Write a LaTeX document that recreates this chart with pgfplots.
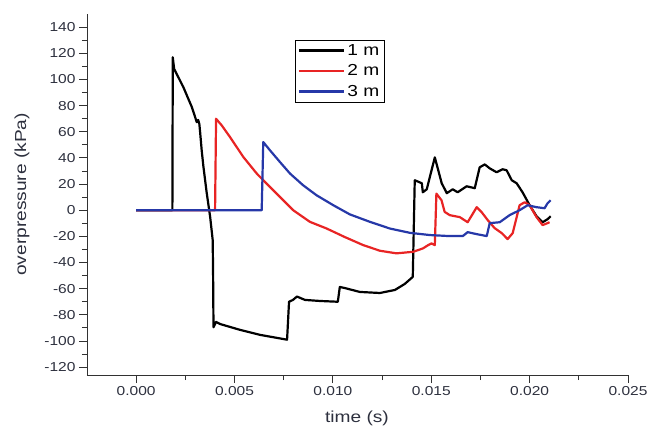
\documentclass[border=0pt]{standalone}
\usepackage{pgfplots}
\pgfplotsset{compat=1.18}
\usepackage{fontspec}
\setmainfont{Liberation Sans}[FakeStretch=1.2]

\definecolor{txt}{RGB}{45,48,62}
\definecolor{axisgray}{RGB}{50,50,50}
\definecolor{cRed}{RGB}{232,36,36}
\definecolor{cBlue}{RGB}{38,56,168}

\begin{document}
\begin{tikzpicture}
\path[use as bounding box] (-87bp,-55bp) rectangle (562bp,375bp);
\begin{axis}[
  scale only axis,
  width=541bp, height=361bp,
  xmin=-0.0025, xmax=0.025,
  ymin=-126, ymax=150,
  axis x line=bottom, axis y line=left,
  axis line style={-, draw=axisgray, line width=0.9pt},
  tick align=outside,
  major tick length=8bp, minor tick length=5bp,
  every tick/.style={axisgray, line width=0.9pt},
  xtick={0,0.005,0.01,0.015,0.02,0.025},
  minor xtick={0.0025,0.0075,0.0125,0.0175,0.0225},
  ytick={-120,-100,-80,-60,-40,-20,0,20,40,60,80,100,120,140},
  minor y tick num=1,
  scaled x ticks=false,
  xticklabel style={/pgf/number format/.cd, fixed, fixed zerofill, precision=3},
  /pgf/number format/assume math mode=true,
  tick label style={font=\fontsize{13}{15}\selectfont, text=txt},
  xlabel={time (s)}, ylabel={overpressure (kPa)},
  label style={font=\fontsize{16}{18}\selectfont, text=txt},
  xlabel style={at={(axis description cs:0.499,-0.119)}, anchor=center},
  ylabel style={at={(axis description cs:-0.120,0.5)}, anchor=center},
  legend style={at={(0.384,0.928)}, anchor=north west, draw=black,
    font=\fontsize{16}{16}\selectfont,
    inner xsep=3pt, inner ysep=2pt, row sep=4pt, cells={anchor=west},
    /tikz/every odd column/.style={inner xsep=1pt}},
  legend image code/.code={\draw[#1] (0bp,0bp) -- (45bp,0bp);},
  legend image post style={line width=2.4bp},
  every axis plot/.append style={line width=2.2bp, line join=round},
]
% 1 m
\addplot[black] coordinates {
(0,0) (0.00184,0) (0.00186,116.9) (0.00193,108) (0.0024,94) (0.00283,78.8)
(0.00308,67.3) (0.00315,69) (0.00321,66) (0.00325,59.7) (0.00333,45.7)
(0.00342,33) (0.00359,12.7) (0.00376,-5.1) (0.00389,-22.9) (0.00391,-50)
(0.00393,-89.5) (0.00406,-85.4) (0.00426,-87)
(0.00528,-91.5) (0.00629,-95.3) (0.00767,-99) (0.00777,-70) (0.00797,-68.6)
(0.00817,-66) (0.00858,-68.6) (0.00934,-69.4) (0.01025,-70) (0.01035,-58.7)
(0.0106,-59.5) (0.01137,-62.5) (0.01239,-63.3) (0.01315,-61) (0.01365,-56.4)
(0.01406,-51) (0.01416,22.9) (0.01452,20.6) (0.01457,13.7) (0.01477,16)
(0.01518,40.4) (0.01553,20.6) (0.01579,13) (0.01609,16) (0.01634,13.7)
(0.0168,18.3) (0.01721,16.8) (0.01746,32.8) (0.01772,35) (0.01797,32)
(0.01832,29) (0.01863,31.3) (0.01883,30.5) (0.01909,22.9) (0.01934,20.6)
(0.01964,13.7) (0.02,3.8) (0.02035,-4.6) (0.02066,-9.2) (0.02091,-6.9) (0.02107,-4.6)
};
\addlegendentry{1 m}
% 2 m
\addplot[cRed] coordinates {
(0,0) (0.00401,0) (0.00406,69.9) (0.00435,64.8) (0.00477,55.9) (0.00545,40.6)
(0.00613,28) (0.00663,20.3) (0.00731,10.1) (0.00798,0) (0.00883,-8.9)
(0.00968,-14) (0.01060,-20.5) (0.01154,-26.7) (0.01239,-31)
(0.01323,-33) (0.01408,-31.8) (0.01458,-29.2) (0.01484,-26.7) (0.01501,-25.4)
(0.01518,-26.7) (0.01526,12.7) (0.01552,7.6) (0.01568,-1.3) (0.01594,-3.8)
(0.01645,-5.3) (0.01685,-9.2) (0.01731,2.3) (0.01756,-1.5) (0.01787,-7.6)
(0.01822,-13.7) (0.01858,-17.5) (0.01888,-22.1) (0.01914,-17.5) (0.01949,3.8)
(0.01975,6.1) (0.02,3.8) (0.02035,-5.3) (0.02066,-11.4) (0.02091,-9.9) (0.02101,-9.2)
};
\addlegendentry{2 m}
% 3 m
\addplot[cBlue] coordinates {
(0,0) (0.00638,0) (0.00646,52.1) (0.0068,45.8) (0.00731,36.8) (0.00782,28)
(0.00849,19) (0.00917,11.4) (0.01002,3.8) (0.01086,-3.2) (0.01188,-8.9)
(0.01289,-14) (0.01391,-17.3) (0.01492,-19) (0.01594,-19.8) (0.0166,-19.8)
(0.01685,-16.8) (0.01731,-18.3) (0.01782,-19.8) (0.01797,-9.9) (0.01848,-9.2)
(0.01898,-3.8) (0.01949,0) (0.0199,3.8) (0.02035,2.3) (0.02076,1.5)
(0.02091,5.3) (0.02107,7.6)
};
\addlegendentry{3 m}
\end{axis}
\end{tikzpicture}
\end{document}
